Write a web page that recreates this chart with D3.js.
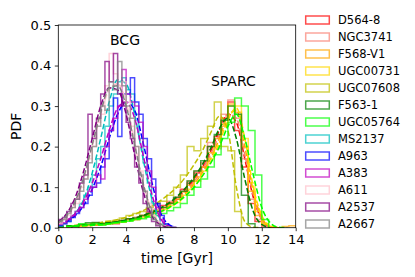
<!DOCTYPE html>
<html><head><meta charset="utf-8">
<script src="https://cdn.jsdelivr.net/npm/d3@7"></script>
<style>body{margin:0;background:#fff} svg{display:block} text{font-family:"DejaVu Sans",sans-serif;fill:#000}</style>
</head><body><svg id="c" width="415" height="277"></svg>
<script>
// ---- data ----
const labels = ["D564-8","NGC3741","F568-V1","UGC00731","UGC07608","F563-1","UGC05764","MS2137","A963","A383","A611","A2537","A2667"];
const colors = ["#ff0000","#fa8072","#ffa500","#ffd700","#bfbf00","#008000","#00ff00","#00bfbf","#0000ff","#bf00bf","#ffc0cb","#800080","#808080"];
const groupOf = ["SPARC","SPARC","SPARC","SPARC","SPARC","SPARC","SPARC","BCG","BCG","BCG","BCG","BCG","BCG"];
const binWidth = {SPARC: 0.4, BCG: 0.25};
const fitStep = 0.5;

// histograms (SPARC: bins of 0.4 Gyr from 0; BCG: bins of 0.25 Gyr from 0)
const histD564 = [0,0,0,0.005,0.008,0.006,0.01,0.012,0.01,0.018,0.022,0.02,0.03,0.036,0.04,0.055,0.062,0.07,0.095,0.11,0.135,0.15,0.2,0.225,0.27,0.31,0.24,0.15,0.06,0.015,0.004,0,0,0,0];
const histNGC3741 = [0,0,0,0,0.006,0.008,0.009,0.012,0.015,0.014,0.02,0.026,0.028,0.035,0.045,0.05,0.065,0.075,0.09,0.115,0.14,0.16,0.21,0.195,0.28,0.315,0.27,0.17,0.07,0.02,0.005,0,0,0,0];
const histF568 = [0,0,0,0.004,0.005,0.008,0.01,0.01,0.014,0.016,0.02,0.022,0.03,0.034,0.042,0.05,0.06,0.07,0.088,0.105,0.125,0.15,0.185,0.22,0.25,0.305,0.285,0.2,0.09,0.03,0.008,0.002,0,0.003,0.005];
const histUGC00731 = [0,0,0.003,0.005,0.006,0.007,0.008,0.011,0.012,0.014,0.018,0.02,0.025,0.03,0.036,0.045,0.055,0.062,0.08,0.095,0.115,0.14,0.17,0.2,0.255,0.3,0.3,0.22,0.11,0.04,0.01,0.003,0,0,0];
const histUGC07608 = [0,0,0.004,0.006,0.008,0.012,0.012,0.016,0.018,0.024,0.03,0.035,0.04,0.05,0.06,0.065,0.08,0.1,0.13,0.2,0.19,0.22,0.25,0.31,0.2,0.19,0.04,0,0,0,0,0,0,0,0];
const histF563 = [0,0,0.003,0.008,0.012,0.013,0.01,0.012,0.014,0.018,0.022,0.024,0.03,0.035,0.04,0.05,0.06,0.075,0.09,0.115,0.14,0.165,0.2,0.23,0.265,0.3,0.28,0.08,0.01,0,0,0,0,0,0];
const histUGC05764 = [0,0,0.005,0.01,0.008,0.01,0.006,0.01,0.012,0.014,0.016,0.02,0.022,0.026,0.03,0.035,0.042,0.05,0.06,0.08,0.1,0.12,0.15,0.18,0.22,0.26,0.32,0.3,0.24,0.13,0.02,0,0,0,0];
const histMS2137 = [0.005,0.01,0.015,0.03,0.04,0.06,0.08,0.1,0.13,0.17,0.2,0.25,0.3,0.33,0.36,0.37,0.34,0.33,0.28,0.22,0.16,0.11,0.06,0.03,0.01,0.003,0,0];
const histA963 = [0.005,0.01,0.015,0.025,0.035,0.05,0.06,0.08,0.1,0.11,0.15,0.17,0.24,0.32,0.225,0.33,0.33,0.37,0.31,0.28,0.22,0.17,0.12,0.06,0.03,0.01,0.003,0];
const histA383 = [0.008,0.012,0.02,0.03,0.04,0.05,0.07,0.09,0.1,0.13,0.12,0.2,0.24,0.27,0.3,0.39,0.33,0.31,0.3,0.26,0.2,0.14,0.1,0.05,0.02,0.005,0,0];
const histA611 = [0.01,0.02,0.03,0.05,0.06,0.1,0.12,0.17,0.2,0.26,0.28,0.35,0.43,0.38,0.35,0.36,0.31,0.25,0.2,0.14,0.09,0.06,0.03,0.01,0.003,0,0,0];
const histA2537 = [0.02,0.025,0.04,0.06,0.07,0.11,0.13,0.28,0.22,0.27,0.33,0.41,0.36,0.43,0.33,0.3,0.26,0.22,0.15,0.11,0.06,0.04,0.015,0.005,0,0,0,0];
const histA2667 = [0.015,0.02,0.035,0.05,0.07,0.09,0.12,0.16,0.2,0.25,0.3,0.29,0.36,0.34,0.41,0.35,0.3,0.27,0.2,0.13,0.09,0.05,0.02,0.008,0,0,0,0];

// fitted curves sampled every 0.5 Gyr from 0
const fitD564 = [0.002,0.003,0.004,0.005,0.007,0.009,0.011,0.014,0.018,0.023,0.029,0.036,0.046,0.058,0.074,0.094,0.12,0.15,0.19,0.24,0.28,0.26,0.17,0.075,0.02,0.002,0,0,0];
const fitNGC3741 = [0.002,0.003,0.004,0.005,0.006,0.008,0.01,0.013,0.017,0.021,0.027,0.034,0.043,0.055,0.07,0.089,0.113,0.143,0.182,0.23,0.28,0.27,0.18,0.08,0.02,0.002,0,0,0];
const fitF568 = [0.002,0.003,0.004,0.005,0.006,0.008,0.01,0.012,0.016,0.02,0.026,0.033,0.041,0.052,0.066,0.084,0.107,0.136,0.172,0.22,0.275,0.29,0.2,0.09,0.025,0.003,0,0,0];
const fitUGC00731 = [0.002,0.002,0.003,0.004,0.006,0.007,0.009,0.012,0.015,0.019,0.024,0.03,0.038,0.048,0.061,0.078,0.1,0.128,0.163,0.21,0.265,0.295,0.22,0.1,0.03,0.004,0,0,0];
const fitUGC07608 = [0.003,0.004,0.006,0.008,0.01,0.013,0.016,0.02,0.026,0.033,0.042,0.053,0.066,0.082,0.1,0.125,0.155,0.19,0.235,0.275,0.24,0.1,0.015,0.001,0,0,0,0,0];
const fitF563 = [0.003,0.004,0.005,0.006,0.008,0.01,0.012,0.015,0.019,0.024,0.03,0.038,0.048,0.06,0.077,0.098,0.124,0.156,0.197,0.245,0.27,0.22,0.12,0.04,0.008,0,0,0,0];
const fitUGC05764 = [0.002,0.003,0.004,0.005,0.006,0.008,0.01,0.013,0.016,0.02,0.025,0.031,0.039,0.049,0.062,0.079,0.1,0.128,0.16,0.2,0.25,0.28,0.22,0.13,0.05,0.012,0.001,0,0];
const fitMS2137 = [0.005,0.015,0.035,0.07,0.135,0.22,0.31,0.365,0.355,0.28,0.17,0.075,0.022,0.004,0];
const fitA963 = [0.008,0.016,0.03,0.055,0.095,0.15,0.22,0.28,0.31,0.29,0.21,0.115,0.04,0.008,0];
const fitA383 = [0.008,0.018,0.035,0.065,0.11,0.17,0.24,0.295,0.31,0.27,0.18,0.085,0.025,0.004,0];
const fitA611 = [0.01,0.028,0.06,0.12,0.2,0.28,0.34,0.355,0.31,0.21,0.11,0.045,0.012,0.002,0];
const fitA2537 = [0.015,0.035,0.075,0.14,0.22,0.30,0.345,0.34,0.28,0.18,0.09,0.03,0.008,0.001,0];
const fitA2667 = [0.012,0.03,0.065,0.125,0.205,0.285,0.345,0.35,0.3,0.205,0.11,0.04,0.01,0.002,0];

const hists = [histD564,histNGC3741,histF568,histUGC00731,histUGC07608,histF563,histUGC05764,histMS2137,histA963,histA383,histA611,histA2537,histA2667];
const fits = [fitD564,fitNGC3741,fitF568,fitUGC00731,fitUGC07608,fitF563,fitUGC05764,fitMS2137,fitA963,fitA383,fitA611,fitA2537,fitA2667];

const xTicks = [0,2,4,6,8,10,12,14];
const yTicks = [0,0.1,0.2,0.3,0.4,0.5];
const yTickLabels = ["0.0","0.1","0.2","0.3","0.4","0.5"];
const annotations = [{text:"BCG", t:3.05, p:0.45},{text:"SPARC", t:9.0, p:0.35}];

// ---- drawing ----
const svg = d3.select("#c");
const L = 58.3, R = 295.7, T = 25, B = 227.7;
const x = d3.scaleLinear([0,14],[L,R]);
const y = d3.scaleLinear([0,0.5],[B,T]);

svg.append("defs").append("clipPath").attr("id","clip")
  .append("rect").attr("x",L).attr("y",T).attr("width",R-L).attr("height",B-T);
const plot = svg.append("g").attr("clip-path","url(#clip)");

function stepPoints(vals, w){
  let i0 = vals.findIndex(v=>v>0);
  let i1 = vals.length-1; while(i1>0 && vals[i1]<=0) i1--;
  const pts = [[x(i0*w), y(0)]];
  for(let i=i0;i<=i1;i++){ pts.push([x(i*w), y(vals[i])],[x((i+1)*w), y(vals[i])]); }
  pts.push([x((i1+1)*w), y(0)]);
  return pts;
}
const lineGen = d3.line();
const fitGen = d3.line().x(d=>x(d[0])).y(d=>y(d[1])).curve(d3.curveMonotoneX);

labels.forEach((lab,k)=>{
  plot.append("path").attr("d", lineGen(stepPoints(hists[k], binWidth[groupOf[k]])))
    .attr("fill","none").attr("stroke",colors[k]).attr("stroke-opacity",0.7)
    .attr("stroke-width",1.5).attr("stroke-linejoin","miter");
  let pts = fits[k].map((v,i)=>[i*fitStep, v]);
  // cut trailing zeros after the curve has returned to 0
  let last = pts.length-1; while(last>1 && pts[last-1][1]===0) last--;
  pts = pts.slice(0,last+1);
  plot.append("path").attr("d", fitGen(pts))
    .attr("fill","none").attr("stroke",colors[k]).attr("stroke-width",1.5)
    .attr("stroke-dasharray","5.5,2.4");
});

// axes
const gx = svg.append("g").attr("transform",`translate(0,${B})`)
  .call(d3.axisBottom(x).tickValues(xTicks).tickSize(3.5).tickPadding(3.5).tickFormat(d3.format("d")));
const gy = svg.append("g").attr("transform",`translate(${L},0)`)
  .call(d3.axisLeft(y).tickValues(yTicks).tickSize(3.5).tickPadding(3.5).tickFormat((d,i)=>yTickLabels[i]));
[gx,gy].forEach(g=>{
  g.select(".domain").remove();
  g.selectAll("line").attr("stroke","#000").attr("stroke-width",0.8);
  g.selectAll("text").attr("font-size",13).attr("font-family","DejaVu Sans").attr("fill","#000");
});
svg.append("rect").attr("x",L).attr("y",T).attr("width",R-L).attr("height",B-T)
  .attr("fill","none").attr("stroke","#000").attr("stroke-width",0.8);

svg.append("text").attr("x",(L+R)/2).attr("y",263).attr("text-anchor","middle")
  .attr("font-size",14).text("time [Gyr]");
svg.append("text").attr("transform",`translate(21,${(T+B)/2}) rotate(-90)`).attr("text-anchor","middle")
  .attr("font-size",14).text("PDF");

annotations.forEach(a=>{
  svg.append("text").attr("x",x(a.t)).attr("y",y(a.p)).attr("font-size",14).text(a.text);
});

// legend
const lg = svg.append("g");
labels.forEach((lab,k)=>{
  const cy = 20 + k*17;
  lg.append("rect").attr("x",305.7).attr("y",cy-4).attr("width",23.6).attr("height",8)
    .attr("fill","none").attr("stroke",colors[k]).attr("stroke-opacity",0.7).attr("stroke-width",1.5);
  lg.append("text").attr("x",338).attr("y",cy+4.2).attr("font-size",11.5).text(lab);
});
</script></body></html>
